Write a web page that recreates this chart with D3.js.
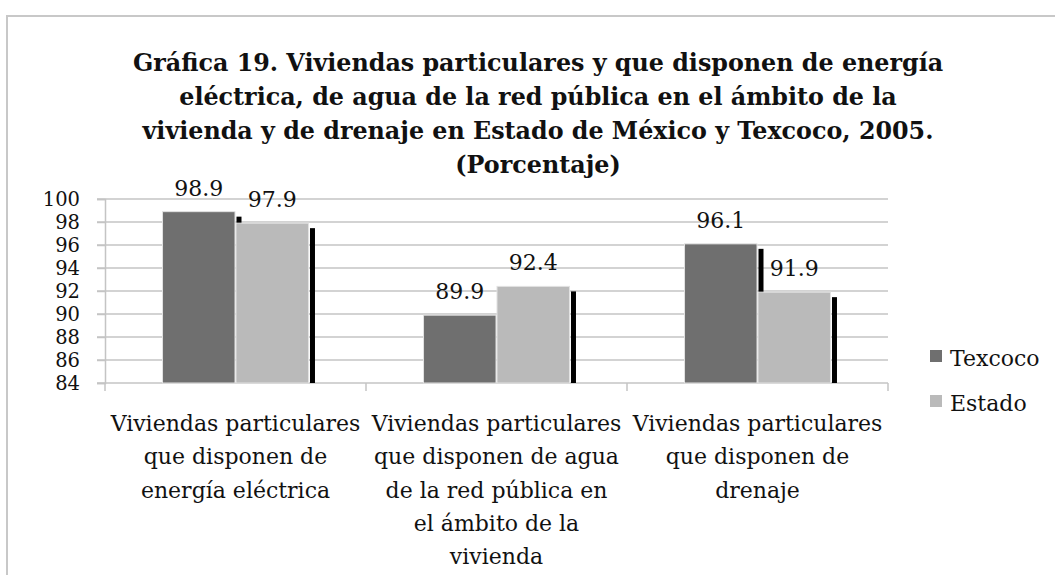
<!DOCTYPE html>
<html>
<head>
<meta charset="utf-8">
<script src="https://cdn.jsdelivr.net/npm/d3@7"></script>
<style>
    body { margin: 0; background: white; }
</style>
</head>
<body>
<svg id="chart"></svg>
<script>
// data
var categories = [
    ['Viviendas particulares', 'que disponen de', 'energía eléctrica'],
    ['Viviendas particulares', 'que disponen de agua', 'de la red pública en', 'el ámbito de la', 'vivienda'],
    ['Viviendas particulares', 'que disponen de', 'drenaje']
];
var cat_keys = ['energia', 'agua', 'drenaje'];
var series = ['Texcoco', 'Estado'];
var texcoco_vals = [98.9, 89.9, 96.1];
var estado_vals = [97.9, 92.4, 91.9];
var y_ticks = [84, 86, 88, 90, 92, 94, 96, 98, 100];
var title_lines = [
    'Gráfica 19. Viviendas particulares y que disponen de energía',
    'eléctrica, de agua de la red  pública en el ámbito de la',
    'vivienda y de drenaje en Estado de México y Texcoco, 2005.',
    '(Porcentaje)'
];

var chart = {
    width: 1055,
    height: 575,
    plot: {left: 105, right: 888, top: 199, bottom: 383},
    font: '"DejaVu Serif", "Liberation Serif", serif',
    colors: {Texcoco: '#6f6f6f', Estado: '#bababa'},
    color_grid: '#c4c4c4',
    color_border: '#c8c8c8',

    draw: function() {
        var self = this;
        var svg = d3.select('#chart')
            .attr('width', this.width)
            .attr('height', this.height)
            .style('font-family', this.font);

        // outer frame (only top and left visible)
        svg.append('path')
            .attr('d', 'M7,' + this.height + ' V16 H' + this.width)
            .attr('fill', 'none')
            .attr('stroke', this.color_border)
            .attr('stroke-width', 2);

        // title
        var title = svg.append('text')
            .attr('text-anchor', 'middle')
            .attr('font-size', 23.8)
            .attr('font-weight', 'bold')
            .attr('fill', '#111');
        title_lines.forEach(function(t, i) {
            title.append('tspan')
                .attr('x', 538)
                .attr('y', 71 + i * 34)
                .text(t);
        });

        var y = d3.scaleLinear()
            .domain([84, 100])
            .range([this.plot.bottom, this.plot.top]);
        var x0 = d3.scaleBand()
            .domain(cat_keys)
            .range([this.plot.left, this.plot.right]);
        var x1 = d3.scaleBand()
            .domain(series)
            .range([0, x0.bandwidth()])
            .paddingOuter(0.776);

        // gridlines
        svg.append('g')
            .selectAll('line')
            .data(y_ticks)
            .join('line')
            .attr('x1', this.plot.left - 8)
            .attr('x2', this.plot.right)
            .attr('y1', function(d) { return y(d); })
            .attr('y2', function(d) { return y(d); })
            .attr('stroke', this.color_grid)
            .attr('stroke-width', 1.5);

        // y axis
        var y_axis = svg.append('g')
            .attr('transform', 'translate(' + this.plot.left + ',0)')
            .call(d3.axisLeft(y).tickValues(y_ticks).tickSize(8).tickPadding(17));
        y_axis.select('.domain').attr('stroke', this.color_grid).attr('stroke-width', 1.5);
        y_axis.selectAll('.tick line').attr('stroke', this.color_grid).attr('stroke-width', 1.5);
        y_axis.selectAll('.tick text')
            .attr('font-size', 19.5)
            .attr('font-family', this.font)
            .attr('fill', '#111');

        // x axis: category separators
        var x_ticks = cat_keys.map(function(k) { return x0(k); }).concat([this.plot.right]);
        svg.append('g')
            .selectAll('line')
            .data(x_ticks)
            .join('line')
            .attr('x1', function(d) { return d; })
            .attr('x2', function(d) { return d; })
            .attr('y1', this.plot.bottom)
            .attr('y2', this.plot.bottom + 8)
            .attr('stroke', this.color_grid)
            .attr('stroke-width', 1.5);

        // category labels
        categories.forEach(function(lines, i) {
            var cx = x0(cat_keys[i]) + x0.bandwidth() / 2;
            var t = svg.append('text')
                .attr('text-anchor', 'middle')
                .attr('font-size', 22)
                .attr('fill', '#111');
            lines.forEach(function(line, j) {
                t.append('tspan')
                    .attr('x', cx)
                    .attr('y', 431 + j * 33.3)
                    .text(line);
            });
        });

        // bars, each with its thin black shadow on the right
        var rows = cat_keys.map(function(k, i) {
            return {key: k, vals: [texcoco_vals[i], estado_vals[i]]};
        });
        rows.forEach(function(row) {
            series.forEach(function(s, si) {
                var v = row.vals[si];
                var bx = x0(row.key) + x1(s);
                var bw = x1.bandwidth();
                svg.append('rect')
                    .attr('x', bx + bw + 1)
                    .attr('y', y(v) + 5)
                    .attr('width', 5)
                    .attr('height', y(84) - y(v) - 5)
                    .attr('fill', '#000');
                svg.append('rect')
                    .attr('x', bx + 0.5)
                    .attr('y', y(v))
                    .attr('width', bw - 1)
                    .attr('height', y(84) - y(v))
                    .attr('fill', self.colors[s])
                    .attr('stroke', '#e2e2e2')
                    .attr('stroke-width', 1);
            });
        });

        // value labels
        rows.forEach(function(row) {
            series.forEach(function(s, si) {
                var v = row.vals[si];
                svg.append('text')
                    .attr('x', x0(row.key) + x1(s) + x1.bandwidth() / 2)
                    .attr('y', y(v) - 16)
                    .attr('text-anchor', 'middle')
                    .attr('font-size', 22)
                    .attr('fill', '#111')
                    .text(v.toFixed(1));
            });
        });

        // legend
        var legend = svg.append('g')
            .selectAll('g')
            .data(series)
            .join('g')
            .attr('transform', function(d, i) { return 'translate(930,' + (350 + i * 45) + ')'; });
        legend.append('rect')
            .attr('width', 12)
            .attr('height', 12)
            .attr('fill', function(d) { return self.colors[d]; });
        legend.append('text')
            .attr('x', 20)
            .attr('y', 16)
            .attr('font-size', 22)
            .attr('fill', '#111')
            .text(function(d) { return d; });
    }
};

chart.draw();
</script>
</body>
</html>
